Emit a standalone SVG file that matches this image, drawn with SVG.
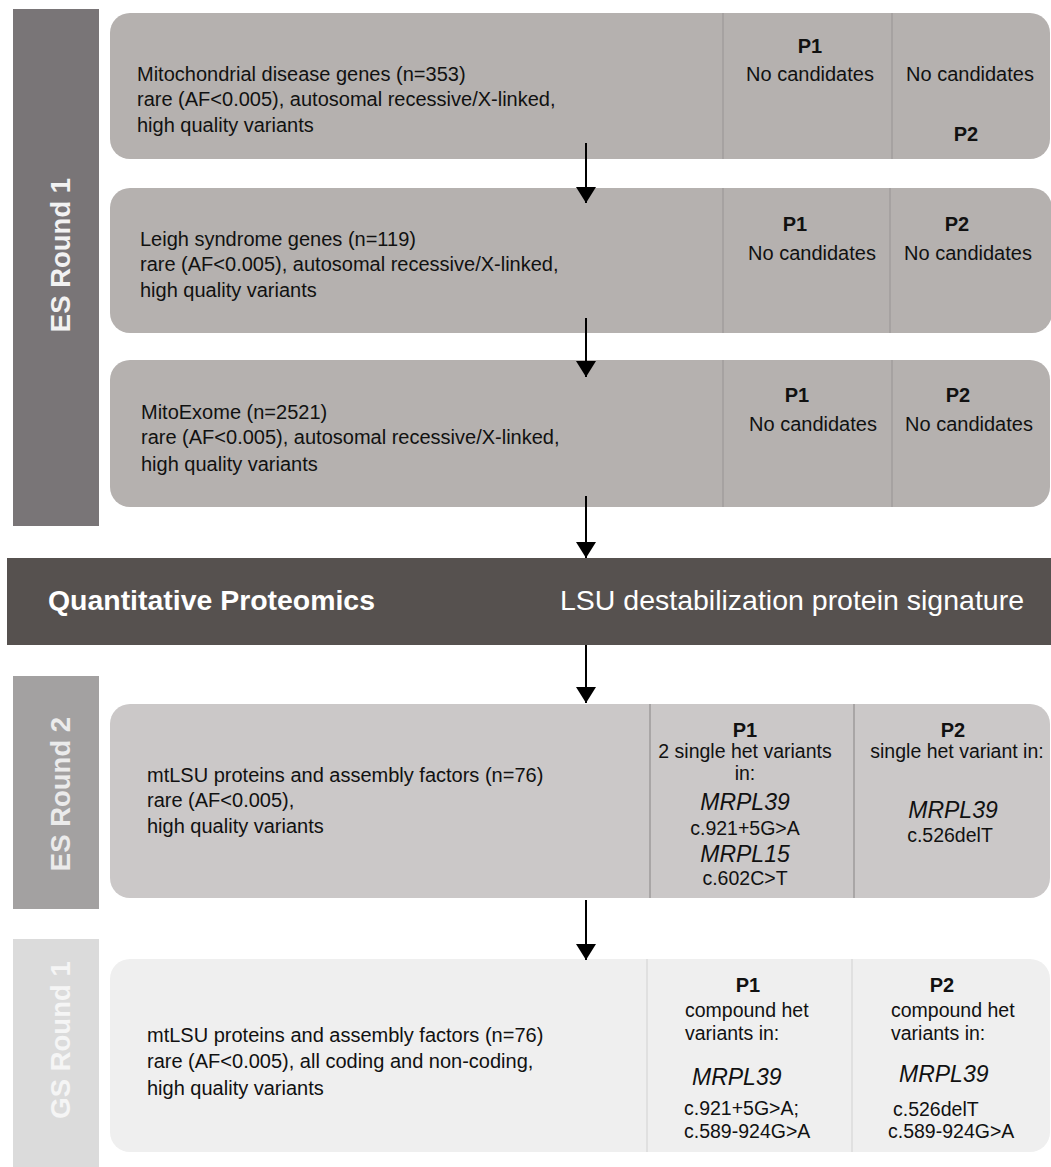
<svg xmlns="http://www.w3.org/2000/svg" width="1051" height="1167" viewBox="0 0 1051 1167">
<defs>
<style>
text{font-family:"Liberation Sans",Arial,sans-serif;fill:#111;font-size:20px}
.b{font-weight:bold}
.i{font-style:italic;font-size:23px}
.m{text-anchor:middle}
.side{font-weight:bold;font-size:27.5px;text-anchor:middle}
.div1{stroke:#a29e9c;stroke-width:1.5}
.div2{stroke:#a9a6a6;stroke-width:2}
.div3{stroke:#e0e0e0;stroke-width:2}
.conn{stroke:#000;stroke-width:2;fill:none}
</style>
<marker id="ah" viewBox="0 0 16 20" refX="16" refY="10" markerWidth="16" markerHeight="20" markerUnits="userSpaceOnUse" orient="auto">
<path d="M0,0 L16,10 L0,20 Z" fill="#000"/>
</marker>
</defs>
<rect width="1051" height="1167" fill="#fff"/>

<g id="es-round1-label">
<rect x="13" y="9" width="86" height="517" fill="#797577"/>
<text class="side" transform="translate(70,255) rotate(-90)" style="fill:#f2f2f2">ES Round 1</text>
</g>

<g id="box-mito-disease">
<rect x="110" y="13" width="940" height="146" rx="20" fill="#b5b1af"/>
<line class="div1" x1="723" y1="13" x2="723" y2="159"/>
<line class="div1" x1="892" y1="13" x2="892" y2="159"/>
<text x="137" y="81">Mitochondrial disease genes (n=353)</text>
<text x="137" y="106">rare (AF&lt;0.005), autosomal recessive/X-linked,</text>
<text x="137" y="132">high quality variants</text>
<text class="b m" x="810" y="53">P1</text>
<text class="m" x="810" y="81">No candidates</text>
<text class="m" x="970" y="81">No candidates</text>
<text class="b m" x="966" y="141">P2</text>
</g>

<g id="box-leigh">
<rect x="110" y="188" width="942" height="145" rx="20" fill="#b5b1af"/>
<line class="div1" x1="723" y1="188" x2="723" y2="333"/>
<line class="div1" x1="890" y1="188" x2="890" y2="333"/>
<text x="140" y="246">Leigh syndrome genes (n=119)</text>
<text x="140" y="271">rare (AF&lt;0.005), autosomal recessive/X-linked,</text>
<text x="140" y="297">high quality variants</text>
<text class="b m" x="795" y="231">P1</text>
<text class="m" x="812" y="260">No candidates</text>
<text class="b m" x="957" y="231">P2</text>
<text class="m" x="968" y="260">No candidates</text>
</g>

<g id="box-mitoexome">
<rect x="110" y="360" width="940" height="147" rx="20" fill="#b5b1af"/>
<line class="div1" x1="723" y1="360" x2="723" y2="507"/>
<line class="div1" x1="892" y1="360" x2="892" y2="507"/>
<text x="141" y="419">MitoExome (n=2521)</text>
<text x="141" y="444">rare (AF&lt;0.005), autosomal recessive/X-linked,</text>
<text x="141" y="471">high quality variants</text>
<text class="b m" x="797" y="402">P1</text>
<text class="m" x="813" y="431">No candidates</text>
<text class="b m" x="958" y="402">P2</text>
<text class="m" x="969" y="431">No candidates</text>
</g>

<g id="proteomics-bar">
<rect x="7" y="558" width="1044" height="87" fill="#56514f"/>
<text class="b" x="48" y="610" style="font-size:28px;fill:#fff" textLength="327" lengthAdjust="spacingAndGlyphs">Quantitative Proteomics</text>
<text x="560" y="610" style="font-size:28px;fill:#fff" textLength="464" lengthAdjust="spacingAndGlyphs">LSU destabilization protein signature</text>
</g>

<g id="es-round2-label">
<rect x="13" y="676" width="86" height="233" fill="#a3a1a1"/>
<text class="side" transform="translate(70,794) rotate(-90)" style="fill:#ebebeb">ES Round 2</text>
</g>

<g id="box-mtlsu-es">
<rect x="110" y="704" width="940" height="194" rx="20" fill="#cbc8c8"/>
<line class="div2" x1="650" y1="704" x2="650" y2="898"/>
<line class="div2" x1="854" y1="704" x2="854" y2="898"/>
<text x="147" y="782">mtLSU proteins and assembly factors (n=76)</text>
<text x="147" y="807">rare (AF&lt;0.005),</text>
<text x="147" y="833">high quality variants</text>
<text class="b m" x="745" y="737">P1</text>
<text class="m" x="745" y="758" style="font-size:19.5px">2 single het variants</text>
<text class="m" x="745" y="780" style="font-size:19.5px">in:</text>
<text class="i m" x="745" y="810">MRPL39</text>
<text class="m" x="745" y="835" style="font-size:19.5px">c.921+5G&gt;A</text>
<text class="i m" x="745" y="862">MRPL15</text>
<text class="m" x="745" y="885" style="font-size:19.5px">c.602C&gt;T</text>
<text class="b m" x="953" y="737">P2</text>
<text class="m" x="957" y="758" style="font-size:19.5px">single het variant in:</text>
<text class="i m" x="953" y="818">MRPL39</text>
<text class="m" x="950" y="842" style="font-size:19.5px">c.526delT</text>
</g>

<g id="gs-round1-label">
<rect x="13" y="939" width="86" height="228" fill="#dbdbdb"/>
<text class="side" transform="translate(70,1040) rotate(-90)" style="fill:#f5f5f5">GS Round 1</text>
</g>

<g id="box-mtlsu-gs">
<rect x="110" y="959" width="940" height="193" rx="20" fill="#efefef"/>
<line class="div3" x1="647" y1="959" x2="647" y2="1152"/>
<line class="div3" x1="852" y1="959" x2="852" y2="1152"/>
<text x="147" y="1042">mtLSU proteins and assembly factors (n=76)</text>
<text x="147" y="1068">rare (AF&lt;0.005), all coding and non-coding,</text>
<text x="147" y="1095">high quality variants</text>
<text class="b m" x="748" y="992">P1</text>
<text x="685" y="1017" style="font-size:19.5px">compound het</text>
<text x="685" y="1040" style="font-size:19.5px">variants in:</text>
<text class="i" x="692" y="1085">MRPL39</text>
<text x="684" y="1115" style="font-size:19.5px">c.921+5G&gt;A;</text>
<text x="684" y="1138" style="font-size:19.5px">c.589-924G&gt;A</text>
<text class="b m" x="942" y="992">P2</text>
<text x="891" y="1017" style="font-size:19.5px">compound het</text>
<text x="891" y="1040" style="font-size:19.5px">variants in:</text>
<text class="i" x="899" y="1082">MRPL39</text>
<text x="893" y="1116" style="font-size:19.5px">c.526delT</text>
<text x="888" y="1138" style="font-size:19.5px">c.589-924G&gt;A</text>
</g>

<g id="connectors">
<line class="conn" x1="586" y1="143" x2="586" y2="203" marker-end="url(#ah)"/>
<line class="conn" x1="586" y1="318" x2="586" y2="377" marker-end="url(#ah)"/>
<line class="conn" x1="586" y1="496" x2="586" y2="558" marker-end="url(#ah)"/>
<line class="conn" x1="586" y1="645" x2="586" y2="703" marker-end="url(#ah)"/>
<line class="conn" x1="586" y1="900" x2="586" y2="960" marker-end="url(#ah)"/>
</g>
</svg>
